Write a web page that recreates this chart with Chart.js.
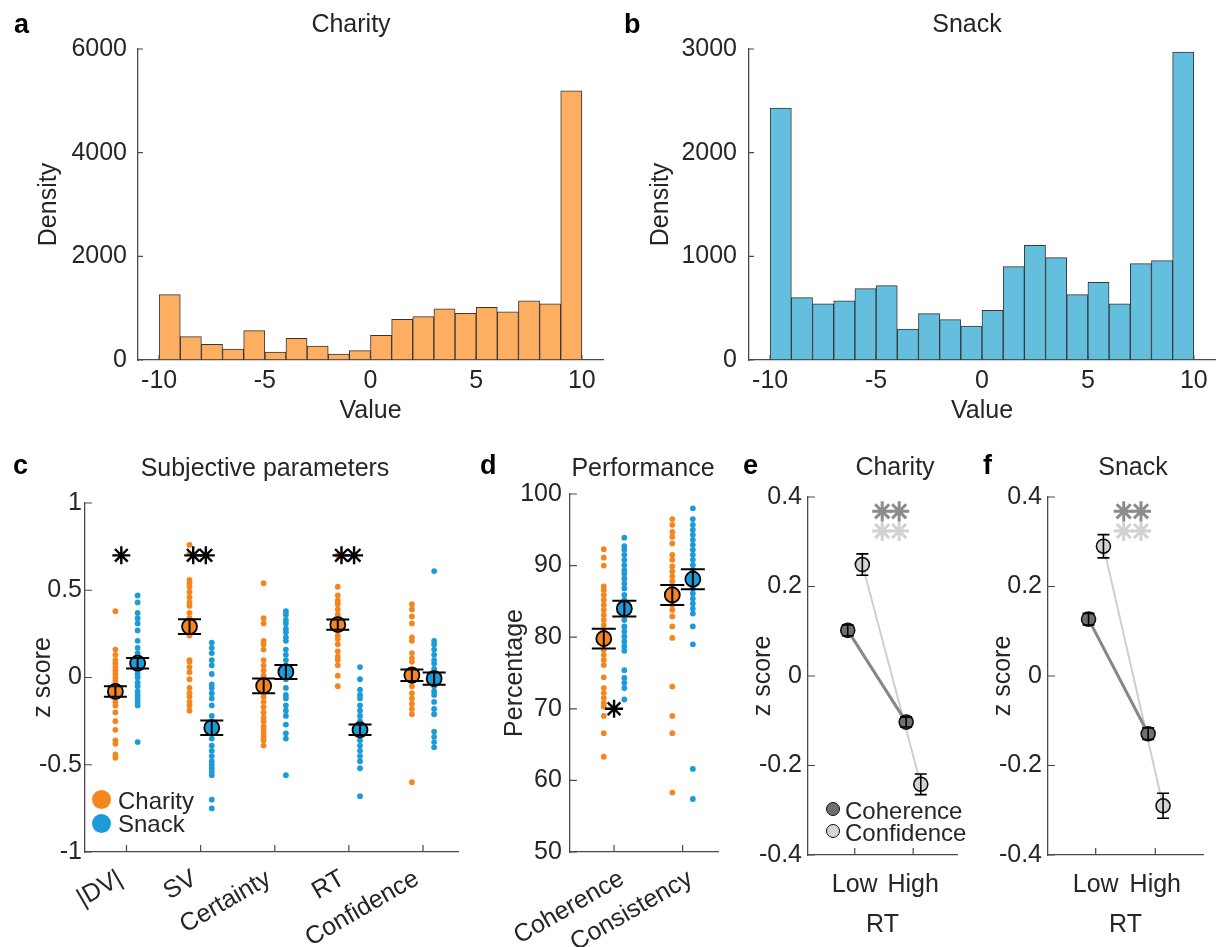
<!DOCTYPE html>
<html>
<head>
<meta charset="utf-8">
<title>Charity / Snack</title>
<script src="https://cdn.jsdelivr.net/npm/chart.js@4.4.1/dist/chart.umd.min.js"></script>
<style>
  html, body { margin: 0; padding: 0; background: #fff; }
  body { position: relative; width: 1216px; height: 947px; overflow: hidden;
         font-family: 'Liberation Sans', Arial, sans-serif; color: #262626; }
  canvas { position: absolute; }
  .t { position: absolute; white-space: nowrap; font-size: 25px; line-height: 30px; }
  .t.c { transform: translateX(-50%); }
  .t.k { font-weight: bold; font-size: 27px; line-height: 32px; color: #000; }
  .t.s { font-size: 24px; line-height: 29px; }
  .m { position: absolute; border-radius: 50%; box-sizing: border-box; }
</style>
</head>
<body>
<canvas id="chart-a"></canvas>
<canvas id="chart-b"></canvas>
<canvas id="chart-c"></canvas>
<canvas id="chart-d"></canvas>
<canvas id="chart-e"></canvas>
<canvas id="chart-f"></canvas>

<div class="t k" style="left:14px;top:8px">a</div>
<div class="t k" style="left:624px;top:8px">b</div>
<div class="t k" style="left:13px;top:449px">c</div>
<div class="t k" style="left:480px;top:449px">d</div>
<div class="t k" style="left:743px;top:449px">e</div>
<div class="t k" style="left:983px;top:449px">f</div>

<div class="t c" style="left:351px;top:8px">Charity</div>
<div class="t c" style="left:967px;top:8px">Snack</div>
<div class="t c" style="left:265px;top:452px">Subjective parameters</div>
<div class="t c" style="left:643px;top:452px">Performance</div>
<div class="t c" style="left:895px;top:451px">Charity</div>
<div class="t c" style="left:1133px;top:451px">Snack</div>

<div class="m" style="left:92px;top:790px;width:19px;height:19px;background:#F5861F"></div>
<div class="m" style="left:92px;top:814px;width:19px;height:19px;background:#1B9BD7"></div>
<div class="t s" style="left:118px;top:786px">Charity</div>
<div class="t s" style="left:118px;top:809px">Snack</div>

<div class="m" style="left:826px;top:802px;width:14px;height:14px;background:#6f6f6f;border:1.5px solid #111"></div>
<div class="m" style="left:826px;top:824px;width:14px;height:14px;background:#d4d4d4;border:1.5px solid #111"></div>
<div class="t s" style="left:845px;top:796px">Coherence</div>
<div class="t s" style="left:845px;top:818px">Confidence</div>

<script>
// ---- a / b : histogramas ----
const binCenters = [-9.5, -8.5, -7.5, -6.5, -5.5, -4.5, -3.5, -2.5, -1.5, -0.5,
                    0.5, 1.5, 2.5, 3.5, 4.5, 5.5, 6.5, 7.5, 8.5, 9.5];
const charityDensity = [1262, 451, 303, 212, 567, 155, 418, 270, 116, 180,
                        476, 785, 837, 985, 901, 1017, 927, 1140, 1082, 5195];
const snackDensity = [2430, 602, 541, 570, 689, 718, 299, 447, 390, 328,
                      480, 901, 1107, 988, 631, 750, 541, 930, 959, 2971];
const histXTicks = [-10, -5, 0, 5, 10];
const charityYTicks = [0, 2000, 4000, 6000];
const snackYTicks = [0, 1000, 2000, 3000];

// ---- c : parametros subjetivos (z score por sujeto) ----
const subjCats = ['|DV|', 'SV', 'Certainty', 'RT', 'Confidence'];
const dvCharity = [0.38, 0.16, 0.13, 0.10, 0.08, 0.06, 0.04, 0.02, 0.0, -0.02, -0.05, -0.07, -0.09, -0.11,
                   -0.14, -0.16, -0.2, -0.25, -0.3, -0.36, -0.38, -0.44, -0.46];
const dvSnack = [0.47, 0.43, 0.37, 0.34, 0.31, 0.27, 0.21, 0.17, 0.14, 0.12, 0.1, 0.08, 0.06, 0.04, 0.02,
                 0.0, -0.03, -0.05, -0.08, -0.1, -0.12, -0.14, -0.16, -0.37];
const svCharity = [0.76, 0.71, 0.56, 0.54, 0.52, 0.49, 0.46, 0.43, 0.41, 0.37, 0.34, 0.32, 0.3, 0.27, 0.24,
                   0.1, 0.09, 0.06, 0.03, -0.01, -0.06, -0.09, -0.11, -0.14, -0.16, -0.19];
const svSnack = [0.2, 0.17, 0.14, 0.1, 0.07, 0.02, -0.04, -0.06, -0.09, -0.12, -0.16, -0.22, -0.26, -0.3,
                 -0.31, -0.35, -0.39, -0.42, -0.45, -0.48, -0.5, -0.52, -0.54, -0.56, -0.7, -0.75];
const certCharity = [0.54, 0.34, 0.31, 0.21, 0.19, 0.16, 0.1, 0.07, 0.04, 0.01, -0.03, -0.06, -0.09, -0.11,
                     -0.14, -0.17, -0.2, -0.23, -0.25, -0.28, -0.3, -0.32, -0.34, -0.36, -0.39];
const certSnack = [0.38, 0.36, 0.33, 0.31, 0.28, 0.26, 0.23, 0.21, 0.16, 0.13, 0.1, 0.07, 0.03, -0.01,
                   -0.06, -0.1, -0.12, -0.16, -0.19, -0.22, -0.27, -0.32, -0.35, -0.56];
const rtCharity = [0.7, 0.52, 0.47, 0.44, 0.42, 0.39, 0.36, 0.33, 0.31, 0.28, 0.24, 0.22, 0.19, 0.15,
                   0.12, 0.1, 0.07, 0.01, -0.05];
const rtSnack = [0.06, -0.01, -0.07, -0.1, -0.12, -0.16, -0.19, -0.22, -0.25, -0.28, -0.31, -0.33, -0.36,
                 -0.39, -0.42, -0.45, -0.48, -0.52, -0.68];
const confCharity = [0.42, 0.39, 0.35, 0.31, 0.23, 0.21, 0.14, 0.11, 0.09, 0.05, 0.02, -0.01, -0.05,
                     -0.09, -0.12, -0.15, -0.18, -0.21, -0.6];
const confSnack = [0.61, 0.21, 0.19, 0.16, 0.13, 0.1, 0.08, 0.05, 0.02, -0.01, -0.05, -0.08, -0.1, -0.14,
                   -0.18, -0.21, -0.31, -0.34, -0.37, -0.4];
const subjMeanCharity = [-0.08, 0.292, -0.048, 0.303, 0.013];
const subjSemCharity = [0.03, 0.042, 0.042, 0.03, 0.033];
const subjMeanSnack = [0.082, -0.288, 0.032, -0.30, -0.006];
const subjSemSnack = [0.03, 0.041, 0.04, 0.03, 0.035];
const subjStarX = [0.93, 1.9, 2.07, 3.9, 4.07];
const subjStarY = 0.7;
const subjYTicks = [-1, -0.5, 0, 0.5, 1];

// ---- d : performance (%) ----
const perfCats = ['Coherence', 'Consistency'];
const cohCharity = [92.3, 91.1, 90.0, 87.1, 86.6, 85.9, 85.2, 84.5, 83.8, 83.1, 82.4, 81.7, 81.0, 80.3,
                    79.6, 78.9, 78.2, 77.5, 76.8, 76.1, 74.4, 72.9, 72.2, 71.5, 70.8, 70.3, 69.0, 66.6, 63.3];
const cohSnack = [93.9, 92.7, 92.2, 91.5, 90.8, 90.1, 89.4, 88.9, 88.2, 87.5, 86.8, 85.9, 85.2, 84.5,
                  83.8, 82.4, 81.5, 80.8, 80.1, 79.4, 78.7, 78.1, 75.4, 74.3, 73.6, 72.9, 71.3];
const consCharity = [96.5, 95.7, 94.7, 94.0, 93.1, 91.5, 90.8, 89.9, 89.2, 88.5, 87.8, 87.1, 86.4, 85.2,
                     84.5, 83.8, 82.9, 81.5, 79.9, 73.1, 69.0, 66.6, 58.3];
const consSnack = [98.0, 96.5, 95.7, 95.0, 94.3, 93.6, 92.9, 92.2, 91.5, 90.8, 90.1, 89.4, 88.9, 88.2,
                   87.5, 86.8, 86.1, 85.4, 84.7, 84.0, 83.3, 81.5, 79.0, 61.6, 57.4];
const perfMeanCharity = [79.8, 85.9];
const perfSemCharity = [1.37, 1.4];
const perfMeanSnack = [84.0, 88.1];
const perfSemSnack = [1.1, 1.4];
const perfStar = { x: 1, y: 70 };
const perfYTicks = [50, 60, 70, 80, 90, 100];

// ---- e / f : coherence y confidence por RT ----
const rtCats = ['Low', 'High'];
const charityCoh = [0.102, -0.103];
const charityCohErr = [0.012, 0.011];
const charityConf = [0.249, -0.242];
const charityConfErr = [0.024, 0.023];
const snackCoh = [0.127, -0.129];
const snackCohErr = [0.013, 0.013];
const snackConf = [0.290, -0.290];
const snackConfErr = [0.026, 0.028];
const rtStarX = [1.47, 1.76];
const rtStarY = [0.368, 0.324];
const rtYTicks = [-0.4, -0.2, 0, 0.2, 0.4];

const NARANJA = '#F5861F';
const AZUL = '#1B9BD7';
const EJE = '#4a4a4a';

Chart.defaults.font.family = "'Liberation Sans', Arial, sans-serif";
Chart.defaults.font.size = 25;
Chart.defaults.color = '#262626';
Chart.defaults.animation = false;
Chart.defaults.events = [];
Chart.defaults.plugins.legend.display = false;
Chart.defaults.plugins.tooltip.enabled = false;

// ticks hacia adentro, como en matlab
const ticksAdentro = {
    id: 'ticksAdentro',
    afterDraw(chart, args, opts) {
        const { ctx, chartArea: a, scales: { x, y } } = chart;
        const len = opts.len || 6;
        ctx.save();
        ctx.strokeStyle = EJE;
        ctx.lineWidth = 1.2;
        ctx.beginPath();
        x.ticks.forEach(t => {
            const p = x.getPixelForValue(t.value);
            ctx.moveTo(p, a.bottom); ctx.lineTo(p, a.bottom - len);
        });
        y.ticks.forEach(t => {
            const p = y.getPixelForValue(t.value);
            ctx.moveTo(a.left, p); ctx.lineTo(a.left + len, p);
        });
        ctx.stroke();
        ctx.restore();
    }
};

// barras de error (media +- sem)
const barrasError = {
    id: 'barrasError',
    afterDatasetsDraw(chart, args, opts) {
        if (!opts.items) return;
        const { ctx, scales: { x, y } } = chart;
        const cap = opts.cap || 10;
        ctx.save();
        ctx.strokeStyle = '#000';
        ctx.lineWidth = opts.width || 2;
        ctx.beginPath();
        opts.items.forEach(it => {
            const px = x.getPixelForValue(it.x);
            const top = y.getPixelForValue(it.y + it.e);
            const bot = y.getPixelForValue(it.y - it.e);
            ctx.moveTo(px, top); ctx.lineTo(px, bot);
            ctx.moveTo(px - cap, top); ctx.lineTo(px + cap, top);
            ctx.moveTo(px - cap, bot); ctx.lineTo(px + cap, bot);
        });
        ctx.stroke();
        ctx.restore();
    }
};
Chart.register(ticksAdentro, barrasError);

function eje(min, max, valores, o = {}) {
    return {
        type: 'linear', min, max, offset: false,
        grid: { display: false, drawTicks: false },
        border: { color: EJE, width: 1.3 },
        afterBuildTicks: s => { s.ticks = valores.map(v => ({ value: v })); },
        ticks: {
            autoSkip: false,
            padding: o.pad ?? 6,
            minRotation: o.rot || 0,
            maxRotation: o.rot || 0,
            labelOffset: o.shift || 0,
            callback: v => o.labels ? o.labels[valores.indexOf(v)] : String(v)
        },
        title: { display: !!o.title, text: o.title || '', padding: { top: o.tpad || 0, bottom: 0 } }
    };
}

// coloca el canvas y fija el area del grafico
function panel(id, box, area, yW, xH, cfg) {
    const c = document.getElementById(id);
    c.width = box.w; c.height = box.h;
    c.style.left = box.l + 'px'; c.style.top = box.t + 'px';
    c.style.width = box.w + 'px'; c.style.height = box.h + 'px';
    cfg.options.responsive = false;
    cfg.options.devicePixelRatio = 1;
    cfg.options.layout = { padding: {
        left: area.l - box.l - yW, top: area.t - box.t,
        right: box.l + box.w - area.r, bottom: box.t + box.h - area.b - xH } };
    cfg.options.scales.x.afterFit = s => { s.height = xH; };
    cfg.options.scales.y.afterFit = s => { s.width = yW; };
    return new Chart(c, cfg);
}

function histograma(id, box, area, yW, valores, color, yMax, yTicks, yPad) {
    return panel(id, box, area, yW, 66, {
        type: 'bar',
        data: { datasets: [{
            data: binCenters.map((x, i) => ({ x, y: valores[i] })),
            backgroundColor: color, borderColor: '#363636', borderWidth: 1,
            borderSkipped: false, barPercentage: 1, categoryPercentage: 1
        }] },
        options: {
            scales: {
                x: eje(-11, 11, histXTicks, { pad: 6, title: 'Value' }),
                y: eje(0, yMax, yTicks, { pad: yPad, title: 'Density', tpad: 34 })
            },
            plugins: { ticksAdentro: { len: 5 } }
        }
    });
}

histograma('chart-a', { l: 0, t: 0, w: 612, h: 440 }, { l: 138, t: 49, r: 603, b: 360 }, 138,
    charityDensity, '#FEAE60', 6000, charityYTicks, 11);
histograma('chart-b', { l: 612, t: 0, w: 604, h: 440 }, { l: 749, t: 49, r: 1215, b: 360 }, 137,
    snackDensity, '#63BFDD', 3000, snackYTicks, 12);

// puntos individuales por columna
const puntos = (cols, off) => cols.flatMap((col, i) => col.map(y => ({ x: i + 1 + off, y })));
const medias = (m, off) => m.map((y, i) => ({ x: i + 1 + off, y }));
const errores = (m, e, off) => m.map((y, i) => ({ x: i + 1 + off, y, e: e[i] }));
const OFF = 0.15;

const dotSet = (data, color) => ({ data, pointRadius: 2.9, pointBorderWidth: 0, pointBackgroundColor: color });
const meanSet = (data, color) => ({ data, pointRadius: 7.5, pointBorderWidth: 1.8,
    pointBorderColor: '#000', pointBackgroundColor: color });
const starSet = (data, color, r, w) => ({ data, pointStyle: 'star', pointRadius: r,
    pointBorderColor: color, pointBorderWidth: w });

panel('chart-c', { l: 0, t: 470, w: 470, h: 477 }, { l: 85, t: 503, r: 463, b: 852 }, 85, 95, {
    type: 'scatter',
    data: { datasets: [
        starSet(subjStarX.map(x => ({ x, y: subjStarY })), '#000', 9, 2.4),
        meanSet(medias(subjMeanCharity, -OFF), NARANJA),
        meanSet(medias(subjMeanSnack, OFF), AZUL),
        dotSet(puntos([dvCharity, svCharity, certCharity, rtCharity, confCharity], -OFF), NARANJA),
        dotSet(puntos([dvSnack, svSnack, certSnack, rtSnack, confSnack], OFF), AZUL)
    ] },
    options: {
        scales: {
            x: eje(0.44, 5.48, [1, 2, 3, 4, 5], { labels: subjCats, rot: 30, pad: 12, shift: -6 }),
            y: eje(-1, 1, subjYTicks, { pad: 3, title: 'z score', tpad: 28 })
        },
        plugins: {
            ticksAdentro: { len: 7 },
            barrasError: { cap: 11.5, width: 2,
                items: errores(subjMeanCharity, subjSemCharity, -OFF).concat(errores(subjMeanSnack, subjSemSnack, OFF)) }
        }
    }
});

panel('chart-d', { l: 470, t: 470, w: 260, h: 477 }, { l: 558, t: 494, r: 723, b: 852 }, 88, 95, {
    type: 'scatter',
    data: { datasets: [
        starSet([perfStar], '#000', 9, 2.4),
        meanSet(medias(perfMeanCharity, -OFF), NARANJA),
        meanSet(medias(perfMeanSnack, OFF), AZUL),
        dotSet(puntos([cohCharity, consCharity], -OFF), NARANJA),
        dotSet(puntos([cohSnack, consSnack], OFF), AZUL)
    ] },
    options: {
        scales: {
            x: eje(0.355, 2.526, [1, 2], { labels: perfCats, rot: 30, pad: 12, shift: 8 }),
            y: eje(50, 100, perfYTicks, { pad: 8, title: 'Percentage', tpad: 18 })
        },
        plugins: {
            ticksAdentro: { len: 7 },
            barrasError: { cap: 12, width: 2,
                items: errores(perfMeanCharity, perfSemCharity, -OFF).concat(errores(perfMeanSnack, perfSemSnack, OFF)) }
        }
    }
});

// paneles e y f
function panelRT(id, box, area, xMax, coh, cohErr, conf, confErr) {
    const oCoh = -0.12, oConf = 0.13;
    return panel(id, box, area, 78, 85, {
        type: 'scatter',
        data: { datasets: [
            starSet(rtStarX.map(x => ({ x, y: rtStarY[0] })), '#8c8c8c', 10, 3),
            starSet(rtStarX.map(x => ({ x, y: rtStarY[1] })), '#d2d2d2', 10, 3),
            { data: medias(coh, oCoh), showLine: true, borderColor: '#868686', borderWidth: 3,
              pointRadius: 7, pointBackgroundColor: '#707070', pointBorderColor: '#111', pointBorderWidth: 1.6 },
            { data: medias(conf, oConf), showLine: true, borderColor: '#cfcfcf', borderWidth: 2,
              pointRadius: 7, pointBackgroundColor: '#d4d4d4', pointBorderColor: '#111', pointBorderWidth: 1.6 }
        ] },
        options: {
            scales: {
                x: eje(0.2, xMax, [1, 2], { labels: rtCats, pad: 15, title: 'RT' }),
                y: eje(-0.4, 0.4, rtYTicks, { pad: 6, title: 'z score', tpad: 18 })
            },
            plugins: {
                ticksAdentro: { len: 7 },
                barrasError: { cap: 6, width: 1.6,
                    items: errores(coh, cohErr, oCoh).concat(errores(conf, confErr, oConf)) }
            }
        }
    });
}

panelRT('chart-e', { l: 730, t: 470, w: 240, h: 477 }, { l: 808, t: 497, r: 967, b: 855 }, 2.75,
    charityCoh, charityCohErr, charityConf, charityConfErr);
panelRT('chart-f', { l: 970, t: 470, w: 246, h: 477 }, { l: 1048, t: 497, r: 1212, b: 855 }, 2.8,
    snackCoh, snackCohErr, snackConf, snackConfErr);
</script>
</body>
</html>
